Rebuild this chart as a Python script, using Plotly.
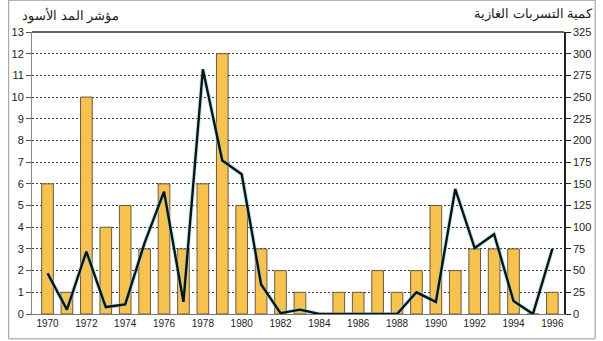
import plotly.graph_objects as go

# Yearly series, 1970-1996
years = list(range(1970, 1997))
black_tide_index = [6, 1, 10, 4, 5, 3, 6, 3, 6, 12, 5, 3, 2, 1, 0, 1, 1, 2, 1, 2, 5, 2, 3, 3, 3, 0, 1]
gas_leaks = [47, 5, 72, 8, 11, 82, 141, 14, 282, 177, 161, 34, 1, 5, 0, 0, 0, 0, 0, 25, 14, 144, 76, 92, 15, 0, 75]

left_ticks = list(range(0, 14))
right_ticks = list(range(0, 326, 25))
year_ticks = list(range(1970, 1997, 2))

left_title = "مؤشر المد الأسود"
right_title = "كمية التسربات الغازية"

font_family = "Liberation Sans, Arial, sans-serif"
text_color = "#222222"

fig = go.Figure()

fig.add_trace(go.Bar(
    x=years, y=black_tide_index, width=0.6,
    marker=dict(color="#F8C24E", line=dict(color="#6b5a40", width=1)),
    yaxis="y", showlegend=False,
))

# soft cyan halo under the line
fig.add_trace(go.Scatter(
    x=years, y=gas_leaks, mode="lines", yaxis="y2",
    line=dict(color="rgba(120,220,235,0.45)", width=4.5),
    showlegend=False, hoverinfo="skip",
))
fig.add_trace(go.Scatter(
    x=years, y=gas_leaks, mode="lines", yaxis="y2",
    line=dict(color="#111111", width=2.4),
    showlegend=False,
))

fig.update_layout(
    width=603, height=341,
    margin=dict(l=24, r=32, t=32, b=25),
    paper_bgcolor="white", plot_bgcolor="white",
    bargap=0.4,
    font=dict(family=font_family, color=text_color),
    xaxis=dict(
        range=[1969.2, 1996.6],
        tickvals=year_ticks, ticktext=[str(y) for y in year_ticks],
        tickfont=dict(size=10, color=text_color),
        showgrid=False, zeroline=False,
        showline=True, linecolor="#777777", linewidth=1,
        ticks="", ticklen=0,
    ),
    yaxis=dict(
        range=[0, 13],
        tickvals=left_ticks,
        tickfont=dict(size=11, color=text_color),
        showgrid=True, gridcolor="#3a3a3a", griddash="2px,2px", gridwidth=1,
        zeroline=False,
        showline=True, linecolor="#888888", linewidth=1,
        ticks="outside", ticklen=5, tickcolor="#555555",
    ),
    yaxis2=dict(
        range=[0, 325], overlaying="y", side="right",
        tickvals=right_ticks,
        tickfont=dict(size=11, color=text_color),
        showgrid=False, zeroline=False,
        showline=True, linecolor="#222222", linewidth=1.5,
        ticks="outside", ticklen=5, tickcolor="#222222",
    ),
    shapes=[
        # top frame line of the plot area
        dict(type="line", xref="paper", yref="paper", x0=0, x1=1, y0=1, y1=1,
             line=dict(color="#333333", width=1.5)),
        # thin border around the whole picture
        dict(type="rect", xref="paper", yref="paper",
             x0=-24/547, x1=1 + 32/547, y0=-25/284, y1=1 + 32/284,
             line=dict(color="#999999", width=1)),
    ],
    annotations=[
        dict(text=left_title, xref="paper", yref="paper",
             x=-12/547, y=1 + 17/284, xanchor="left", yanchor="middle",
             showarrow=False, font=dict(size=13, color=text_color, family=font_family)),
        dict(text=right_title, xref="paper", yref="paper",
             x=1 + 32/547, y=1 + 18/284, xanchor="right", yanchor="middle",
             showarrow=False, font=dict(size=13, color=text_color, family=font_family)),
    ],
)

fig.write_html("out.html")
